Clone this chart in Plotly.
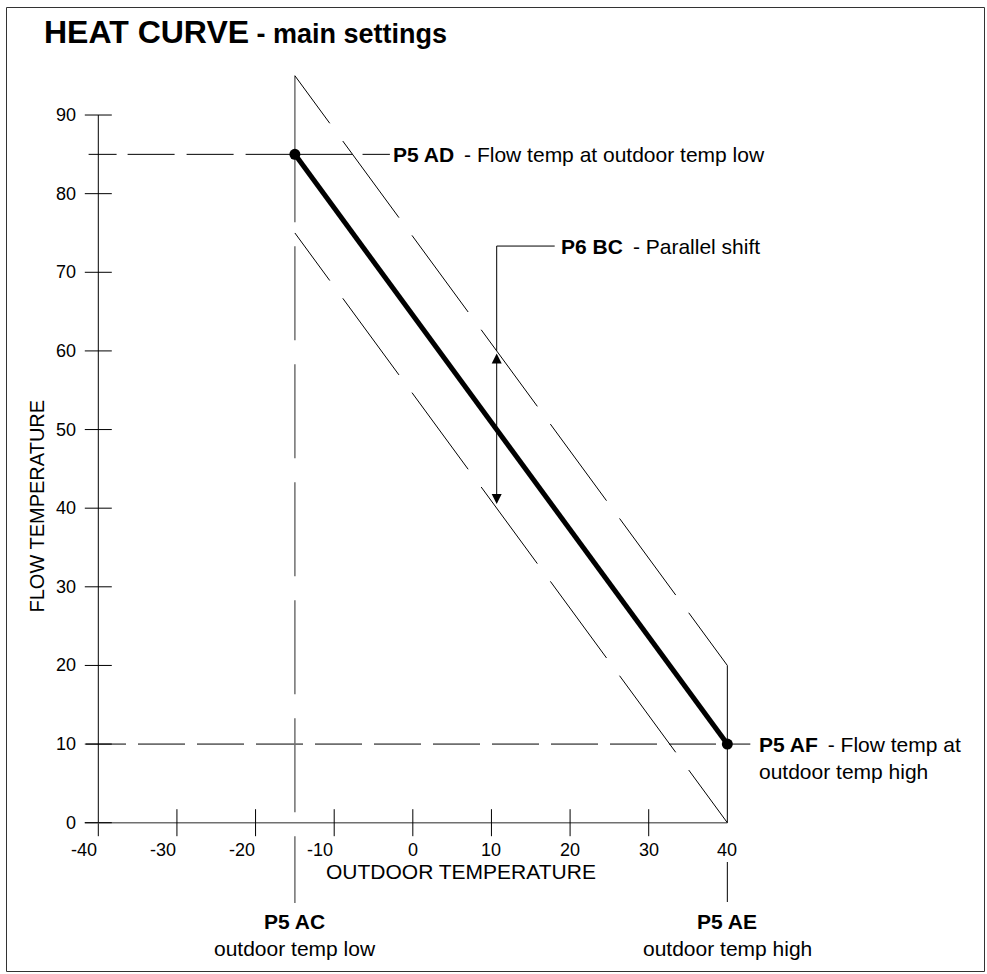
import numpy as np
import plotly.graph_objects as go

# ---------------- data ----------------
outdoor_temp_low = -15      # P5 AC
outdoor_temp_high = 40      # P5 AE
flow_temp_at_low = 85       # P5 AD
flow_temp_at_high = 10      # P5 AF
parallel_shift = 10         # P6 BC
shift_arrow_flow = 50       # flow value where the parallel-shift arrow sits on the curve

x_ticks = [-40, -30, -20, -10, 0, 10, 20, 30, 40]
y_ticks = [0, 10, 20, 30, 40, 50, 60, 70, 80, 90]
x_tick_labels = [str(v) for v in x_ticks]
y_tick_labels = [str(v) for v in y_ticks]

curve_x = [outdoor_temp_low, outdoor_temp_high]
curve_y = [flow_temp_at_low, flow_temp_at_high]
upper_y = [v + parallel_shift for v in curve_y]
lower_y = [v - parallel_shift for v in curve_y]

title_main = "HEAT CURVE"
title_sub = " - main settings"
x_title = "OUTDOOR TEMPERATURE"
y_title = "FLOW TEMPERATURE"

# ---------------- geometry helpers ----------------
W, H = 987, 974
PX = 7.863                      # pixels per data unit (both axes)
X0 = -40 - 98.3 / PX            # data x at left pixel edge
Y1 = 822.7 / PX                 # data y at top pixel edge
X_RANGE = [X0, X0 + W / PX]
Y_RANGE = [Y1 - H / PX, Y1]


def u(px):
    """pixel length -> data units"""
    return px / PX


FONT = "Liberation Sans, Arial, sans-serif"
BLACK = "#000000"
GREY = "#707070"
SEP = " \u2009"

x_min, x_max = min(x_ticks), max(x_ticks)
y_min, y_max = min(y_ticks), max(y_ticks)
tick_half = u(13.5)


def segs(pairs):
    xs, ys = [], []
    for (xa, ya), (xb, yb) in pairs:
        xs += [xa, xb, None]
        ys += [ya, yb, None]
    return xs, ys


fig = go.Figure()


def line(xs, ys, color=BLACK, width=1, dash="solid"):
    fig.add_trace(go.Scatter(x=xs, y=ys, mode="lines",
                             line=dict(color=color, width=width, dash=dash),
                             hoverinfo="skip", showlegend=False))


# axes
line([x_min, x_min], [y_max, y_min - tick_half], BLACK, 1)
line([x_min - tick_half, x_max], [y_min, y_min], GREY, 1.5)
tx, ty = segs([((x_min - tick_half, v), (x_min + tick_half, v)) for v in y_ticks])
line(tx, ty, BLACK, 1)
tx, ty = segs([((v, y_min - tick_half), (v, y_min + tick_half)) for v in x_ticks[1:-1]])
line(tx, ty, BLACK, 1)

# dashed reference lines
line([x_min - u(9.7), outdoor_temp_low], [flow_temp_at_low] * 2, BLACK, 1,
     "28px,11px,47px,12px,47px,12px,60px")
line([x_min - u(12.3), outdoor_temp_high], [flow_temp_at_high] * 2, BLACK, 1,
     "40px,12px," + ",".join(["47px,12px"] * 10))
# vertical at outdoor temp low
line([outdoor_temp_low] * 2, [upper_y[0], flow_temp_at_low - u(68)], GREY, 1.5)
line([outdoor_temp_low] * 2, [flow_temp_at_low - u(92), y_min - u(80.3)], GREY, 1.5,
     "94px,24px")
# vertical at outdoor temp high
vx, vy = segs([((outdoor_temp_high, upper_y[1]), (outdoor_temp_high, y_min)),
               ((outdoor_temp_high, y_min - u(39.3)), (outdoor_temp_high, y_min - u(79.3)))])
line(vx, vy, BLACK, 1)

# parallel shifted curves
pdash = "59px,22px," + ",".join(["95px,22px"] * 7)
line(curve_x, upper_y, BLACK, 1, pdash)
line(curve_x, lower_y, BLACK, 1, pdash)

# main heat curve
fig.add_trace(go.Scatter(x=curve_x, y=curve_y, mode="lines+markers",
                         line=dict(color=BLACK, width=5),
                         marker=dict(color=BLACK, size=11),
                         hoverinfo="skip", showlegend=False))

# parallel shift arrow position: where the curve crosses shift_arrow_flow
shift_x = float(np.interp(shift_arrow_flow, curve_y[::-1], curve_x[::-1]))
leader_top = shift_arrow_flow + u(183.5)

# leaders
slope = (curve_y[0] - curve_y[1]) / (curve_x[1] - curve_x[0])
crossing_x = outdoor_temp_low + (upper_y[0] - flow_temp_at_low) / slope
ad_end = outdoor_temp_low + u(95)
lx, ly = segs([((outdoor_temp_low, flow_temp_at_low), (crossing_x, flow_temp_at_low)),
               ((crossing_x + u(10), flow_temp_at_low), (ad_end, flow_temp_at_low)),
               ((outdoor_temp_high, flow_temp_at_high), (outdoor_temp_high + u(23), flow_temp_at_high))])
line(lx, ly, BLACK, 1)
bc_end = shift_x + u(58)
line([shift_x, shift_x, bc_end], [shift_arrow_flow + parallel_shift, leader_top, leader_top], BLACK, 1)

annotations = []
# double arrow for parallel shift
annotations.append(dict(x=shift_x, y=shift_arrow_flow + parallel_shift,
                        ax=shift_x, ay=shift_arrow_flow - parallel_shift,
                        xref="x", yref="y", axref="x", ayref="y", text="",
                        showarrow=True, arrowside="end+start", arrowhead=2, startarrowhead=2,
                        arrowsize=2, startarrowsize=2, arrowwidth=1, arrowcolor=BLACK,
                        standoff=2.6, startstandoff=2.6))


def txt(x, y, text, size=21, xanchor="left", yanchor="middle", angle=0, xref="x", yref="y"):
    annotations.append(dict(x=x, y=y, xref=xref, yref=yref, text=text, showarrow=False,
                            xanchor=xanchor, yanchor=yanchor, textangle=angle,
                            font=dict(family=FONT, size=size, color=BLACK),
                            borderpad=0))


# tick labels
for v, t in zip(y_ticks, y_tick_labels):
    txt(x_min - u(21.3), v, t, 18, "right")
for v, t in zip(x_ticks, x_tick_labels):
    txt(v, y_min - u(27.5), t, 18, "right" if v < 0 else "center")

# axis titles
txt(X0 + u(461), y_min - u(48.5), x_title, 21, "center")
txt(X0 + u(36.5), Y1 - u(506), y_title, 20, "center", angle=-90)

# title
txt(43 / W, 1 - 32 / H,
    "<b>" + title_main + "</b><span style='font-size:27px'><b>" + title_sub + "</b></span>",
    32, "left", xref="paper", yref="paper")

# callouts
txt(ad_end + u(2), flow_temp_at_low, "<b>P5 AD</b>" + SEP + "- Flow temp at outdoor temp low")
txt(bc_end + u(5), leader_top, "<b>P6 BC</b>" + SEP + "- Parallel shift")
txt(outdoor_temp_high + u(31), flow_temp_at_high, "<b>P5 AF</b>" + SEP + "- Flow temp at")
txt(outdoor_temp_high + u(31), flow_temp_at_high - u(27), "outdoor temp high")
txt(outdoor_temp_low, y_min - u(99), "<b>P5 AC</b>", 21, "center")
txt(outdoor_temp_low, y_min - u(126), "outdoor temp low", 21, "center")
txt(outdoor_temp_high, y_min - u(99), "<b>P5 AE</b>", 21, "center")
txt(outdoor_temp_high, y_min - u(126), "outdoor temp high", 21, "center")

fig.update_layout(
    width=W, height=H, autosize=False,
    margin=dict(l=0, r=0, t=0, b=0, pad=0),
    paper_bgcolor="white", plot_bgcolor="white",
    xaxis=dict(range=X_RANGE, visible=False, fixedrange=True),
    yaxis=dict(range=Y_RANGE, visible=False, fixedrange=True),
    annotations=annotations,
    shapes=[dict(type="rect", xref="paper", yref="paper",
                 x0=6.5 / W, x1=984.5 / W, y0=1 - 971.5 / H, y1=1 - 7.5 / H,
                 line=dict(color="#333333", width=1))],
    showlegend=False,
    font=dict(family=FONT),
)

fig.write_html("out.html", config={"displayModeBar": False, "staticPlot": True},
               post_script="document.body.style.margin='0';document.body.style.overflow='hidden';")
